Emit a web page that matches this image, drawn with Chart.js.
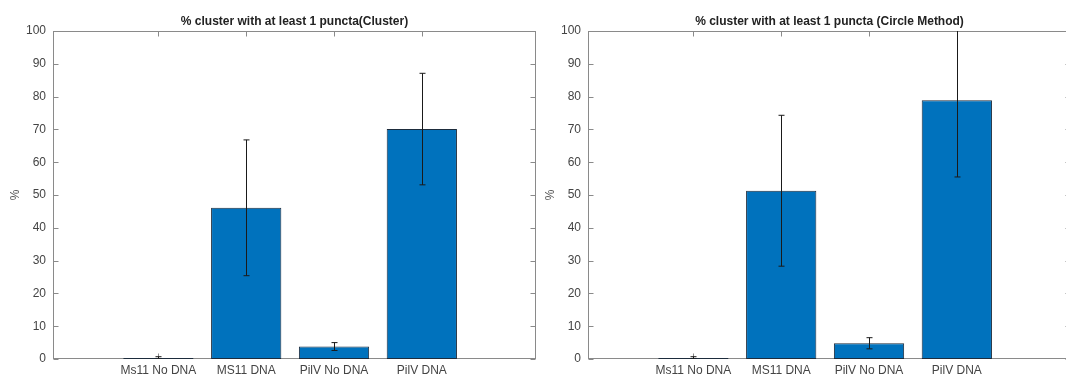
<!DOCTYPE html>
<html>
<head>
<meta charset="utf-8">
<script src="https://cdn.jsdelivr.net/npm/chart.js@4.4.0/dist/chart.umd.min.js"></script>
<style>
  html, body { margin: 0; padding: 0; background: #fff; overflow: hidden; }
  body { width: 1066px; height: 378px; position: relative; }
  .box { position: absolute; top: 0; width: 545px; height: 378px; }
</style>
</head>
<body>
<div class="box" style="left:0"><canvas id="clusterChart"></canvas></div>
<div class="box" style="left:535px"><canvas id="circleChart"></canvas></div>
<script>
const categories = ['Ms11 No DNA', 'MS11 DNA', 'PilV No DNA', 'PilV DNA'];
const clusterValues = [0.3, 46.1, 3.8, 70.1];
const clusterErrors = [0.4, 20.7, 1.2, 17.0];
const circleValues = [0.3, 51.3, 4.8, 78.9];
const circleErrors = [0.4, 23.0, 1.7, 23.4];
const yTicks = [0, 10, 20, 30, 40, 50, 60, 70, 80, 90, 100];

const FONT = '"Liberation Sans", Arial, sans-serif';
const barBlue = '#0072BD';

// matlab style axes: box + inward ticks under the bars, error bars on top
const matlabAxes = {
    id: 'matlabAxes',
    beforeDatasetsDraw(chart) {
        const { ctx, chartArea: a, scales: { x, y } } = chart;
        ctx.save();
        ctx.strokeStyle = '#8a8a8a';
        ctx.lineWidth = 1;
        const L = Math.round(a.left) + 0.5, R = Math.round(a.right) - 0.5;
        const T = Math.round(a.top) + 0.5, B = Math.round(a.bottom) - 0.5;
        ctx.strokeRect(L, T, R - L, B - T);
        ctx.beginPath();
        yTicks.forEach(t => {
            const py = Math.round(y.getPixelForValue(t)) + 0.5;
            ctx.moveTo(L, py); ctx.lineTo(L + 5, py);
            ctx.moveTo(R, py); ctx.lineTo(R - 5, py);
        });
        categories.forEach((c, i) => {
            const px = Math.round(x.getPixelForValue(i + 1)) + 0.5;
            ctx.moveTo(px, T); ctx.lineTo(px, T + 5);
            ctx.moveTo(px, B); ctx.lineTo(px, B - 5);
        });
        ctx.stroke();
        ctx.restore();
    },
    afterDatasetsDraw(chart, args, opts) {
        const { ctx, chartArea: a, scales: { y } } = chart;
        const meta = chart.getDatasetMeta(0);

        // error bars (clipped to the axes)
        ctx.save();
        ctx.beginPath();
        ctx.rect(a.left, a.top, a.right - a.left, a.bottom - a.top);
        ctx.clip();
        ctx.strokeStyle = '#1a1a1a';
        ctx.lineWidth = 1;
        meta.data.forEach((bar, i) => {
            const v = opts.values[i], e = opts.errors[i];
            const cx = Math.round(bar.x) + 0.5;
            const top = y.getPixelForValue(v + e);
            const bot = y.getPixelForValue(Math.max(v - e, 0));
            ctx.beginPath();
            ctx.moveTo(cx, top);
            ctx.lineTo(cx, bot);
            ctx.moveTo(cx - 3, top);
            ctx.lineTo(cx + 3, top);
            ctx.moveTo(cx - 3, bot);
            ctx.lineTo(cx + 3, bot);
            ctx.stroke();
        });
        ctx.restore();

        ctx.save();
        // title
        ctx.fillStyle = '#222';
        ctx.font = 'bold 12px ' + FONT;
        ctx.textAlign = 'center';
        ctx.textBaseline = 'alphabetic';
        ctx.fillText(opts.title, (a.left + a.right) / 2, a.top - 6);

        // y label
        ctx.fillStyle = '#555';
        ctx.font = '12px ' + FONT;
        ctx.translate(16, (a.top + a.bottom) / 2);
        ctx.rotate(-Math.PI / 2);
        ctx.textBaseline = 'middle';
        ctx.fillText('%', 0, 0);
        ctx.restore();
    }
};

function makeChart(id, title, values, errors) {
    return new Chart(document.getElementById(id), {
        type: 'bar',
        data: {
            datasets: [{
                data: values.map((v, i) => ({ x: i + 1, y: v })),
                backgroundColor: barBlue,
                borderColor: '#1d2c3c',
                borderWidth: 1,
                borderSkipped: false,
                barPercentage: 0.8,
                categoryPercentage: 1
            }]
        },
        options: {
            responsive: false,
            animation: false,
            devicePixelRatio: 1,
            layout: { padding: { top: 31, right: 9, left: 0, bottom: 0 } },
            plugins: {
                legend: { display: false },
                tooltip: { enabled: false },
                matlabAxes: { title: title, values: values, errors: errors }
            },
            scales: {
                x: {
                    type: 'linear',
                    min: -0.2,
                    max: 5.3,
                    offset: false,
                    afterFit: s => { s.height = 19; },
                    afterBuildTicks: s => { s.ticks = categories.map((c, i) => ({ value: i + 1 })); },
                    grid: { display: false, drawTicks: false, offset: false },
                    border: { display: false },
                    ticks: {
                        autoSkip: false,
                        maxRotation: 0,
                        padding: 4,
                        color: '#444',
                        font: { family: FONT, size: 12 },
                        callback: v => categories[v - 1] || ''
                    }
                },
                y: {
                    min: 0,
                    max: 100,
                    afterFit: s => { s.width = 53; },
                    afterBuildTicks: s => { s.ticks = yTicks.map(v => ({ value: v })); },
                    grid: { display: false, drawTicks: false },
                    border: { display: false },
                    ticks: {
                        padding: 7,
                        color: '#444',
                        font: { family: FONT, size: 12 }
                    }
                }
            }
        },
        plugins: [matlabAxes]
    });
}

document.querySelectorAll('canvas').forEach(c => { c.width = 545; c.height = 378; });
makeChart('clusterChart', '% cluster with at least 1 puncta(Cluster)', clusterValues, clusterErrors);
makeChart('circleChart', '% cluster with at least 1 puncta (Circle Method)', circleValues, circleErrors);
</script>
</body>
</html>
